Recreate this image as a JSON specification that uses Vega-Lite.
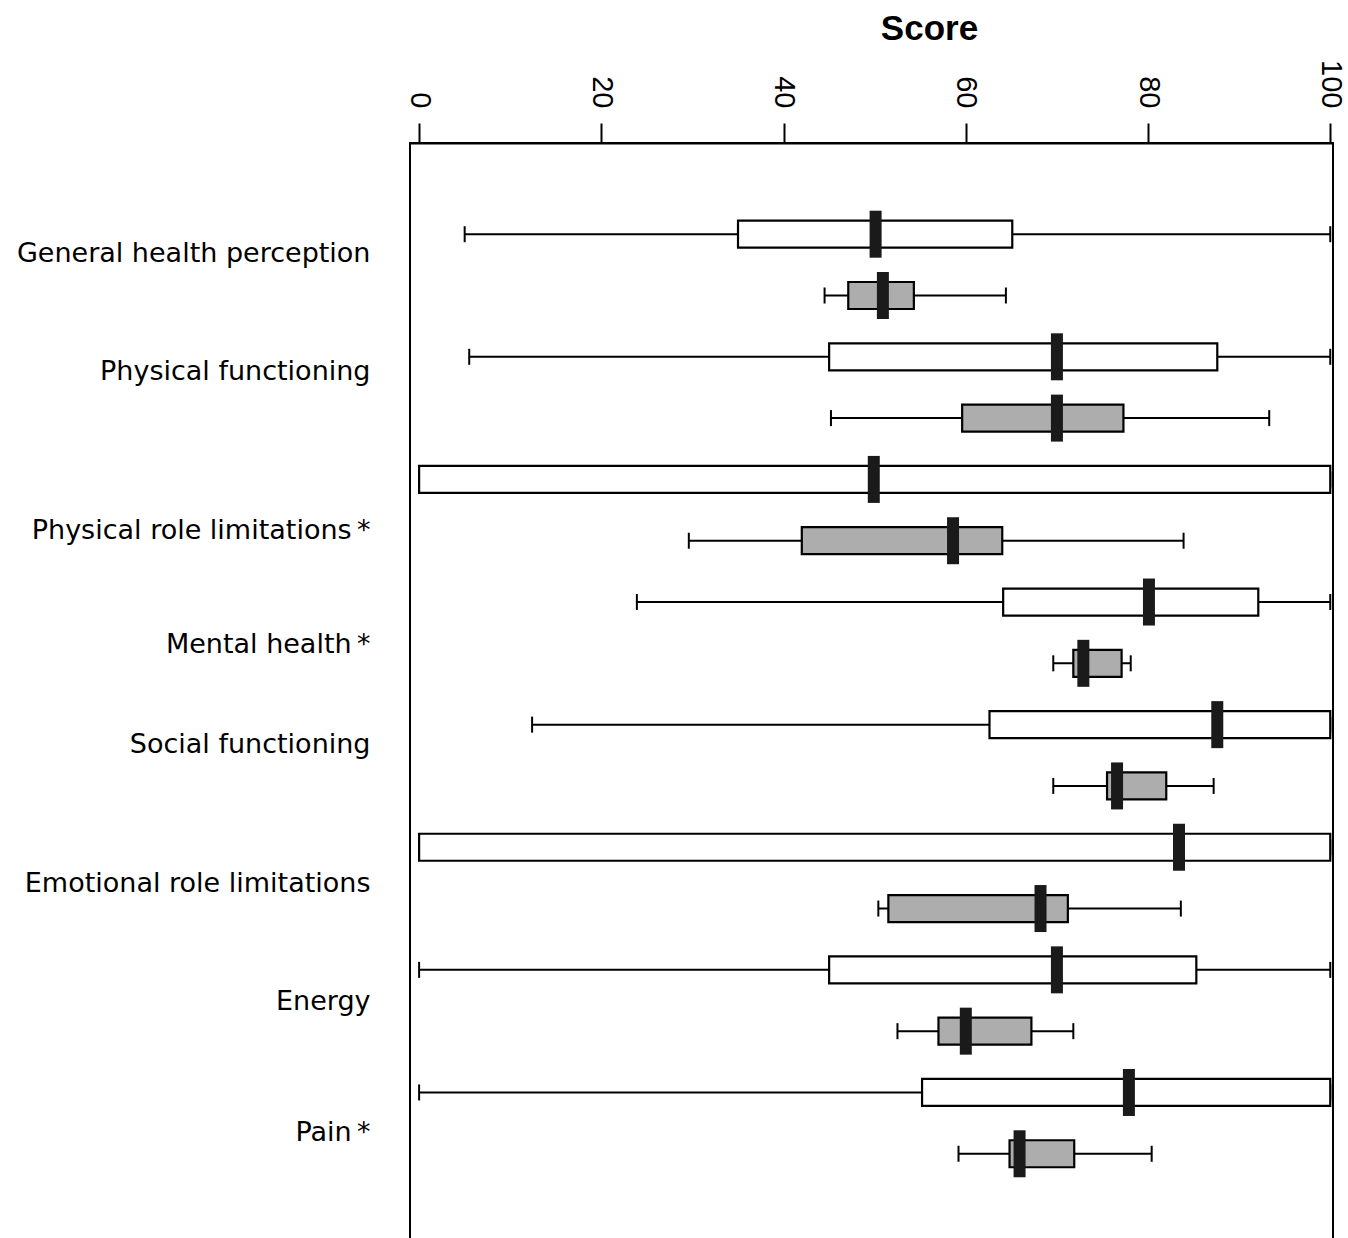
{
  "$schema": "https://vega.github.io/schema/vega-lite/v6.json",
  "autosize": {"type": "none"},
  "padding": {"left": 410, "top": 143, "right": 15, "bottom": 0},
  "width": 923,
  "height": 1097,
  "background": "white",
  "config": {
    "view": {"stroke": "black", "strokeWidth": 2},
    "axis": {"labelColor": "black", "titleColor": "black", "domainColor": "black", "tickColor": "black"}
  },
  "data": {
    "values": [
      {"category": "General health perception", "group": "white", "row": 1, "low": 5.0, "q1": 35.0, "median": 50.1, "q3": 65.1, "high": 100},
      {"category": "General health perception", "group": "gray", "row": 2, "low": 44.5, "q1": 47.1, "median": 50.9, "q3": 54.3, "high": 64.4},
      {"category": "Physical functioning", "group": "white", "row": 3, "low": 5.5, "q1": 45.0, "median": 70.0, "q3": 87.6, "high": 100},
      {"category": "Physical functioning", "group": "gray", "row": 4, "low": 45.2, "q1": 59.6, "median": 70.0, "q3": 77.3, "high": 93.3},
      {"category": "Physical role limitations", "group": "white", "row": 5, "low": 0, "q1": 0, "median": 49.9, "q3": 100, "high": 100},
      {"category": "Physical role limitations", "group": "gray", "row": 6, "low": 29.6, "q1": 42.0, "median": 58.6, "q3": 64.0, "high": 83.9},
      {"category": "Mental health", "group": "white", "row": 7, "low": 23.9, "q1": 64.1, "median": 80.1, "q3": 92.1, "high": 100},
      {"category": "Mental health", "group": "gray", "row": 8, "low": 69.6, "q1": 71.8, "median": 72.9, "q3": 77.1, "high": 78.1},
      {"category": "Social functioning", "group": "white", "row": 9, "low": 12.4, "q1": 62.6, "median": 87.6, "q3": 100, "high": 100},
      {"category": "Social functioning", "group": "gray", "row": 10, "low": 69.6, "q1": 75.5, "median": 76.6, "q3": 82.0, "high": 87.2},
      {"category": "Emotional role limitations", "group": "white", "row": 11, "low": 0, "q1": 0, "median": 83.4, "q3": 100, "high": 100},
      {"category": "Emotional role limitations", "group": "gray", "row": 12, "low": 50.4, "q1": 51.5, "median": 68.2, "q3": 71.2, "high": 83.6},
      {"category": "Energy", "group": "white", "row": 13, "low": 0, "q1": 45.0, "median": 70.0, "q3": 85.3, "high": 100},
      {"category": "Energy", "group": "gray", "row": 14, "low": 52.5, "q1": 57.0, "median": 60.0, "q3": 67.2, "high": 71.8},
      {"category": "Pain", "group": "white", "row": 15, "low": 0, "q1": 55.2, "median": 77.9, "q3": 100, "high": 100},
      {"category": "Pain", "group": "gray", "row": 16, "low": 59.2, "q1": 64.8, "median": 65.9, "q3": 71.9, "high": 80.4}
    ]
  },
  "encoding": {
    "y": {
      "field": "row",
      "type": "quantitative",
      "scale": {"domain": [-0.406, 17.325], "reverse": true, "nice": false, "zero": false},
      "axis": {
        "orient": "left",
        "title": null,
        "domain": false,
        "ticks": false,
        "grid": false,
        "values": [1.32, 3.24, 5.84, 7.70, 9.324, 11.587, 13.52, 15.65],
        "labelExpr": "datum.value < 2 ? 'General health perception' : datum.value < 4 ? 'Physical functioning' : datum.value < 6 ? 'Physical role limitations\u2009*' : datum.value < 8 ? 'Mental health\u2009*' : datum.value < 10 ? 'Social functioning' : datum.value < 12 ? 'Emotional role limitations' : datum.value < 14 ? 'Energy' : 'Pain\u2009*'",
        "labelFont": "DejaVu Sans",
        "labelFontSize": 27,
        "labelAlign": "right",
        "labelBaseline": "middle",
        "labelPadding": 40,
        "labelLimit": 400,
        "labelOverlap": false,
        "labelFlush": false
      }
    }
  },
  "layer": [
    {
      "mark": {"type": "rule", "color": "black", "strokeWidth": 2},
      "encoding": {
        "x": {
          "field": "low",
          "type": "quantitative",
          "scale": {"domain": [-1, 100.3], "nice": false, "zero": false},
          "axis": {
            "orient": "top",
            "values": [0, 20, 40, 60, 80, 100],
            "grid": false,
            "domain": true,
            "domainWidth": 2,
            "tickSize": 20,
            "tickWidth": 2,
            "labelAngle": 90,
            "labelAlign": "right",
            "labelBaseline": "middle",
            "labelPadding": 15,
            "labelOffset": 0,
            "labelFont": "Liberation Sans",
            "labelFontSize": 29,
            "labelFlush": false,
            "labelOverlap": false,
            "title": "Score",
            "titleFont": "Liberation Sans",
            "titleFontWeight": "bold",
            "titleFontSize": 35,
            "titleX": 519,
            "titleY": -104,
            "titleAlign": "center",
            "titleBaseline": "alphabetic"
          }
        },
        "x2": {"field": "high"}
      }
    },
    {
      "mark": {"type": "tick", "orient": "vertical", "color": "black", "size": 16, "thickness": 2, "opacity": 1},
      "encoding": {"x": {"field": "low", "type": "quantitative"}}
    },
    {
      "mark": {"type": "tick", "orient": "vertical", "color": "black", "size": 16, "thickness": 2, "opacity": 1},
      "encoding": {"x": {"field": "high", "type": "quantitative"}}
    },
    {
      "mark": {"type": "bar", "orient": "horizontal", "size": 27, "stroke": "black", "strokeWidth": 2.2, "opacity": 1},
      "encoding": {
        "x": {"field": "q1", "type": "quantitative"},
        "x2": {"field": "q3"},
        "fill": {
          "field": "group",
          "type": "nominal",
          "scale": {"domain": ["white", "gray"], "range": ["#ffffff", "#adadad"]},
          "legend": null
        }
      }
    },
    {
      "mark": {"type": "tick", "orient": "vertical", "color": "#1a1a1a", "size": 47, "thickness": 12, "opacity": 1},
      "encoding": {"x": {"field": "median", "type": "quantitative"}}
    }
  ]
}
